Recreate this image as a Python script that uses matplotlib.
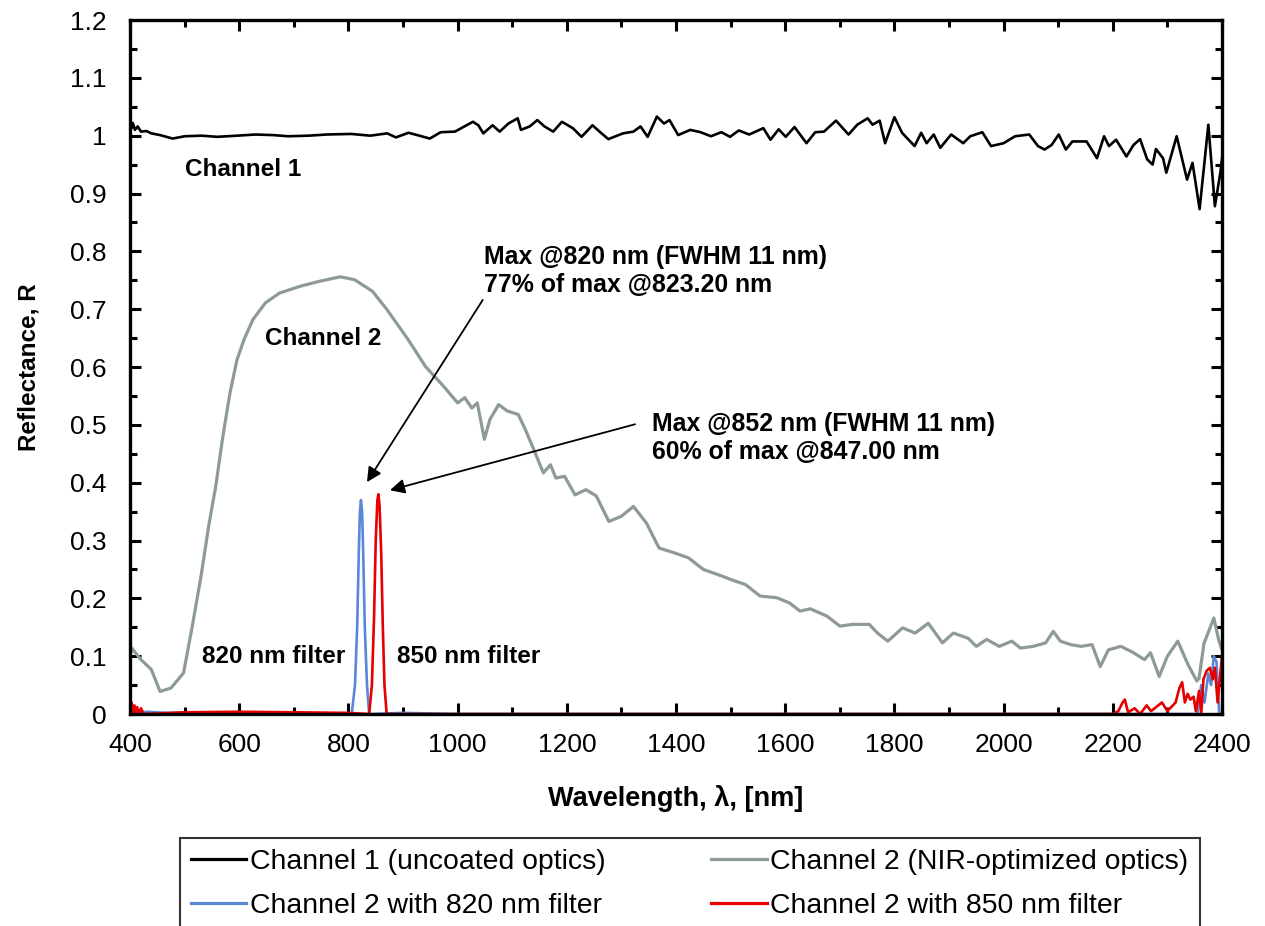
import matplotlib
matplotlib.use("Agg")
import matplotlib.pyplot as plt
from matplotlib.ticker import MultipleLocator, FuncFormatter

plt.rcParams["font.family"] = ["Liberation Sans", "DejaVu Sans"]

# channel 1 (uncoated optics)
ch1_wl = [400, 402, 405, 409, 414, 420, 430, 439, 455, 478, 500, 531, 560, 596, 630, 662, 690,
          727, 760, 805, 840, 871, 887, 910, 930, 949, 969,
          995, 1028, 1038, 1047, 1064, 1077, 1093, 1110, 1116, 1132, 1146, 1159, 1175,
          1191, 1211, 1227, 1247, 1260, 1276, 1303, 1322, 1335, 1348, 1365, 1378, 1388,
          1404, 1426, 1445, 1464, 1483, 1499, 1515, 1534, 1560, 1573, 1588, 1601, 1617,
          1639, 1655, 1671, 1693, 1716, 1732, 1751, 1760, 1773, 1783, 1800, 1814, 1837,
          1849, 1859, 1872, 1884, 1904, 1926, 1939, 1961, 1977, 2000, 2021, 2047, 2063,
          2075, 2088, 2101, 2114, 2126, 2152, 2171, 2184, 2193, 2206, 2225, 2238, 2250,
          2263, 2273, 2279, 2292, 2298, 2317, 2336, 2346, 2359, 2375, 2387, 2397, 2400]
ch1_r = [1.03, 1.012, 1.022, 1.01, 1.016, 1.007, 1.008, 1.004, 1.001, 0.995, 0.999, 1.0, 0.998,
         1.0, 1.002, 1.001, 0.999, 1.0, 1.002, 1.003, 1.0, 1.004, 0.997,
         1.005, 1.0, 0.995, 1.006, 1.007, 1.024, 1.018, 1.004, 1.018, 1.007, 1.021, 1.03, 1.01,
         1.016, 1.027, 1.016, 1.007, 1.024, 1.013, 0.998, 1.018, 1.007, 0.994, 1.004, 1.007,
         1.016, 0.998, 1.033, 1.021, 1.027, 1.001, 1.010, 1.006, 0.999, 1.006, 0.998, 1.009,
         1.002, 1.013, 0.993, 1.011, 0.998, 1.015, 0.987, 1.006, 1.007, 1.026, 1.002, 1.019,
         1.030, 1.019, 1.026, 0.987, 1.032, 1.005, 0.982, 1.005, 0.987, 1.002, 0.979, 1.002,
         0.987, 0.999, 1.006, 0.982, 0.987, 0.999, 1.002, 0.982, 0.976, 0.984, 1.002, 0.976,
         0.990, 0.990, 0.961, 0.999, 0.982, 0.993, 0.964, 0.984, 0.994, 0.959, 0.950, 0.977,
         0.961, 0.936, 0.999, 0.924, 0.953, 0.873, 1.019, 0.878, 0.936, 0.96]

# channel 2 (NIR-optimized optics)
ch2_wl = [400, 403, 420, 439, 455, 475, 498, 514, 530, 544, 557, 570, 583, 596, 609, 625,
          648, 674, 713, 746, 785, 811, 844, 870, 909, 941, 974, 1000, 1013, 1026, 1036,
          1049, 1059, 1075, 1091, 1111, 1124, 1137, 1157, 1170, 1180, 1196, 1215, 1235,
          1254, 1277, 1300, 1322, 1346, 1369, 1396, 1423, 1450, 1477, 1508, 1527, 1554,
          1585, 1608, 1627, 1646, 1677, 1700, 1723, 1754, 1769, 1788, 1815, 1838, 1862,
          1888, 1908, 1935, 1950, 1969, 1992, 2015, 2031, 2054, 2077, 2091, 2104, 2123,
          2142, 2162, 2177, 2192, 2215, 2238, 2258, 2269, 2285, 2300, 2319, 2338, 2354,
          2358, 2367, 2385, 2394, 2400]
ch2_r = [0.10, 0.114, 0.094, 0.077, 0.039, 0.045, 0.071, 0.152, 0.238, 0.325, 0.394, 0.480,
         0.555, 0.613, 0.648, 0.682, 0.711, 0.728, 0.740, 0.748, 0.756, 0.751, 0.731, 0.700,
         0.648, 0.601, 0.567, 0.538, 0.547, 0.529, 0.538, 0.475, 0.509, 0.535, 0.524, 0.518,
         0.492, 0.463, 0.417, 0.431, 0.408, 0.411, 0.379, 0.388, 0.377, 0.333, 0.342, 0.359,
         0.330, 0.287, 0.279, 0.270, 0.250, 0.241, 0.230, 0.224, 0.204, 0.201, 0.192, 0.178,
         0.182, 0.169, 0.152, 0.155, 0.155, 0.140, 0.126, 0.149, 0.140, 0.157, 0.123, 0.140,
         0.131, 0.117, 0.129, 0.117, 0.126, 0.114, 0.117, 0.123, 0.143, 0.126, 0.120, 0.117,
         0.120, 0.082, 0.111, 0.117, 0.106, 0.094, 0.106, 0.065, 0.100, 0.126, 0.085, 0.057,
         0.062, 0.122, 0.166, 0.128, 0.111]

# channel 2 with 820 nm filter
f820_wl = [400, 430, 470, 520, 600, 700, 806, 812, 816, 819, 821, 823, 825, 827, 830, 834,
           838, 900, 1000, 1500, 2000, 2355, 2362, 2368, 2375, 2380, 2385, 2390, 2395, 2400]
f820_r = [0.0, 0.004, 0.002, 0.003, 0.001, 0.002, 0.0, 0.05, 0.15, 0.28, 0.35, 0.37, 0.35,
          0.28, 0.15, 0.05, 0.0, 0.002, 0.0, 0.0, 0.0, 0.0, 0.05, 0.02, 0.07, 0.05, 0.10,
          0.09, 0.0, 0.0]

# channel 2 with 850 nm filter
f850_wl = [400, 401, 403, 405, 408, 410, 413, 416, 420, 425, 500, 600, 700, 800, 838, 843,
           847, 850, 853, 855, 857, 860, 863, 866, 870, 1000, 1800, 2200, 2210, 2218, 2222,
           2228, 2240, 2250, 2262, 2270, 2290, 2300, 2315, 2322, 2327, 2332, 2337, 2342,
           2348, 2352, 2358, 2362, 2366, 2372, 2378, 2383, 2387, 2392, 2396, 2400]
f850_r = [0.06, 0.0, 0.02, 0.0, 0.015, 0.0, 0.012, 0.0, 0.01, 0.0, 0.003, 0.004, 0.003, 0.002,
          0.0, 0.05, 0.17, 0.30, 0.37, 0.38, 0.36, 0.28, 0.15, 0.05, 0.0, 0.0, 0.0, 0.0,
          0.005, 0.02, 0.025, 0.003, 0.01, 0.0, 0.015, 0.005, 0.02, 0.005, 0.02, 0.045, 0.055,
          0.02, 0.035, 0.025, 0.03, 0.005, 0.04, 0.0, 0.06, 0.075, 0.08, 0.06, 0.08, 0.02,
          0.06, 0.10]

fig = plt.figure(figsize=(12.65, 9.26), dpi=100)
ax = fig.add_axes([0.1028, 0.2289, 0.8632, 0.7495])

l2, = ax.plot(ch2_wl, ch2_r, color="#8e9b95", lw=2.3, label="Channel 2 (NIR-optimized optics)")
l1, = ax.plot(ch1_wl, ch1_r, color="black", lw=1.9, label="Channel 1 (uncoated optics)")
l3, = ax.plot(f820_wl, f820_r, color="#5b87d6", lw=1.9, label="Channel 2 with 820 nm filter")
l4, = ax.plot(f850_wl, f850_r, color="#e60000", lw=1.9, label="Channel 2 with 850 nm filter")

ax.set_xlim(400, 2400)
ax.set_ylim(0, 1.2)
ax.xaxis.set_major_locator(MultipleLocator(200))
ax.xaxis.set_minor_locator(MultipleLocator(100))
ax.yaxis.set_major_locator(MultipleLocator(0.1))
ax.yaxis.set_minor_locator(MultipleLocator(0.05))
ax.yaxis.set_major_formatter(FuncFormatter(lambda v, p: f"{v:g}"))
ax.tick_params(which="both", direction="in", top=True, right=True, width=2.2, labelsize=19)
ax.tick_params(which="major", length=8)
ax.tick_params(which="minor", length=5)
ax.tick_params(axis="x", pad=14)
ax.tick_params(axis="y", pad=17)
for s in ax.spines.values():
    s.set_linewidth(2.4)

ax.set_xlabel("Wavelength, λ, [nm]", fontsize=19.5, fontweight="bold", labelpad=20)
ax.set_ylabel("Reflectance, R", fontsize=17.5, fontweight="bold", labelpad=21)

# text labels on the plot
bold = dict(fontsize=17.5, fontweight="bold")
ax.text(501, 0.941, "Channel 1", va="center", **bold)
ax.text(647, 0.650, "Channel 2", va="center", **bold)
ax.text(532, 0.099, "820 nm filter", va="center", **bold)
ax.text(889, 0.099, "850 nm filter", va="center", **bold)
ann = dict(fontsize=17.9, fontweight="bold", va="center", linespacing=1.2)
ax.text(1048, 0.766, "Max @820 nm (FWHM 11 nm)\n77% of max @823.20 nm", **ann)
ax.text(1356, 0.477, "Max @852 nm (FWHM 11 nm)\n60% of max @847.00 nm", **ann)
arrow = dict(arrowstyle="-|>", color="black", lw=1.3, mutation_scale=22, shrinkA=0, shrinkB=0)
ax.annotate("", xy=(834, 0.401), xytext=(1046, 0.716), arrowprops=arrow)
ax.annotate("", xy=(876, 0.387), xytext=(1325, 0.501), arrowprops=arrow)

# legend fills column by column, so order gives rows ch1/ch2 then the filters
leg = fig.legend(handles=[l1, l3, l2, l4], ncol=2, loc="upper left",
                 bbox_to_anchor=(0.142, 0.095), borderaxespad=0, fontsize=20.4,
                 frameon=True, fancybox=False, edgecolor="black", handlelength=1.95,
                 handletextpad=0.12, columnspacing=3.75, labelspacing=0.62, borderpad=0.4)
leg.get_frame().set_linewidth(1.5)
for h in leg.get_lines():
    h.set_linewidth(2.3)

fig.savefig("out.png", dpi=100)
